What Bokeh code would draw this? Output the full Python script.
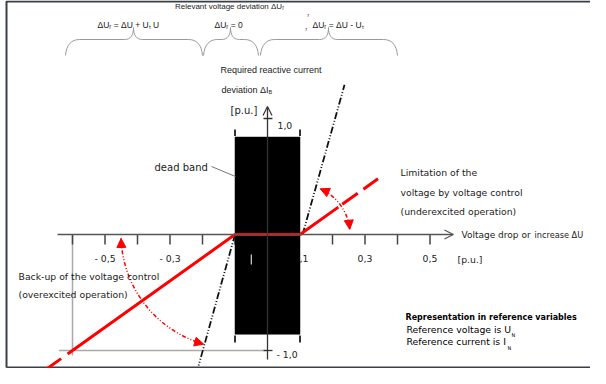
import math
from bokeh.plotting import figure
from bokeh.models import Range1d, Arrow, NormalHead, OpenHead
from bokeh.embed import file_html
from bokeh.resources import INLINE
from bokeh.core.properties import value

# ---------------- data (p.u.) ----------------
x_ticks_neg = [-0.6, -0.5, -0.4, -0.3, -0.2, -0.1]
x_ticks_pos = [0.2, 0.3, 0.4, 0.5]
x_label_vals = [-0.5, -0.3, 0.3, 0.5]
x_label_text = ["- 0,5", "- 0,3", "0,3", "0,5"]
x_hidden_label_val = 0.1
x_hidden_label_text = "0,1"
y_tick_vals = [1.0, -1.0]
y_tick_text = ["1,0", "- 1,0"]
dead_band_x = [-0.1, 0.1]
dead_band_y = [-0.86, 0.84]
# reactive current characteristic (slope 2 outside dead band)
char_solid_x = [-0.6, -0.1, 0.1, 0.218]
char_solid_y = [-1.0, 0.0, 0.0, 0.236]
char_dash_right_x = [0.23, 0.34]
char_dash_right_y = [0.26, 0.48]
char_dash_left_x = [-0.6, -0.70]
char_dash_left_y = [-1.0, -1.20]
# steep limitation lines (dash-dot)
limit_right_x = [0.108, 0.237]
limit_right_y = [0.0, 1.29]
limit_left_x = [-0.1, -0.212]
limit_left_y = [0.0, -1.13]
# reference marks
ref_current = -1.0
ref_voltage = -0.6
x_axis_span = [-0.646, 0.572]
y_axis_span = [-1.078, 1.103]

# ---------------- layout (reference pixels -> p.u.) ----------------
SX, SY = 325.0, 116.0          # pixels per p.u.
OX, OY = 275.0, 242.0          # origin in page pixels
W, H = 590, 368


def ux(px):
    return (px - OX) / SX


def uy(py):
    return (OY - py) / SY


p = figure(width=W, height=H, x_range=Range1d(ux(8), ux(8 + W)),
           y_range=Range1d(uy(8 + H), uy(8)), output_backend="svg",
           toolbar_location=None, x_axis_type=None, y_axis_type=None,
           min_border=0, outline_line_color=None,
           background_fill_color="white", border_fill_color="white")
p.grid.visible = False

AX = "#555555"
TXT = "#222222"
RED = "#ff0000"


def txt(s, x, y, size="9.3px", font="DejaVu Sans", align="left",
        style="normal", color=TXT, baseline="middle"):
    p.text(x=[x], y=[y], text=[s], text_font=value(font),
           text_font_size=value(size), text_align=align,
           text_baseline=baseline, text_color=color, text_font_style=style)


# frame
p.line(x=[ux(14), ux(14), ux(600)], y=[uy(375), uy(9), uy(9)],
       line_color="#3a3f44", line_width=2)
p.line(x=[ux(14), ux(600)], y=[uy(375), uy(375)], line_color="#3a3f44",
       line_width=2)

# braces
def brace(x0, xm, x1, ye=63, yh=47, yt=35):
    xs0, ys0, xs1, ys1, cx0, cy0, cx1, cy1 = [], [], [], [], [], [], [], []
    segs = [
        ((x0, ye), (x0 + 14, yh), (x0 + 1, yh + 5), (x0 + 6, yh)),
        ((xm - 9, yh), (xm, yt), (xm - 3, yh), (xm, yh - 4)),
        ((xm, yt), (xm + 9, yh), (xm, yh - 4), (xm + 3, yh)),
        ((x1 - 14, yh), (x1, ye), (x1 - 6, yh), (x1 - 1, yh + 5)),
    ]
    for a, b, c, d in segs:
        xs0.append(ux(a[0])); ys0.append(uy(a[1]))
        xs1.append(ux(b[0])); ys1.append(uy(b[1]))
        cx0.append(ux(c[0])); cy0.append(uy(c[1]))
        cx1.append(ux(d[0])); cy1.append(uy(d[1]))
    p.bezier(x0=xs0, y0=ys0, x1=xs1, y1=ys1, cx0=cx0, cy0=cy0, cx1=cx1,
             cy1=cy1, line_color="#9a9a9a", line_width=1)
    p.segment(x0=[ux(x0 + 14), ux(xm + 9)], y0=[uy(yh)] * 2,
              x1=[ux(xm - 9), ux(x1 - 14)], y1=[uy(yh)] * 2,
              line_color="#9a9a9a", line_width=1)


brace(73, 141, 210)
brace(211, 238, 266)
brace(268, 336, 405)

# top texts
txt("Relevant voltage deviation ΔUᵣ", ux(237), uy(14), size="8px",
    font="Liberation Sans", align="center")
txt("ΔUᵣ = ΔU + Uₜ U", ux(105), uy(32), size="8.5px", font="Liberation Sans")
txt("ΔUᵣ = 0", ux(222), uy(32), size="8.5px", font="Liberation Sans")
txt("ΔUᵣ = ΔU - Uₜ", ux(320), uy(32), size="8.5px", font="Liberation Sans")
txt("r", ux(315), uy(22), size="5px", font="Liberation Sans")
txt("r", ux(313), uy(36), size="5px", font="Liberation Sans")

txt("Required reactive current", ux(228), uy(77), size="9px",
    font="Liberation Sans")
txt("deviation ΔI", ux(229), uy(97), size="9px", font="Liberation Sans")
txt("B", ux(276), uy(99), size="5.5px", font="Liberation Sans")
txt("[p.u.]", ux(238), uy(118), size="10px")

# dotted reference lines
p.line(x=[x_axis_span[0] + 0.006, 0.0], y=[ref_current, ref_current],
       line_color=AX, line_width=1.5, line_dash="1 1")
p.line(x=[ref_voltage, ref_voltage], y=[0.0, -1.04], line_color=AX,
       line_width=1.5, line_dash="1 1")

# axes
p.add_layout(Arrow(end=OpenHead(size=9, line_color=AX, line_width=1.2),
                   x_start=x_axis_span[0], y_start=0.0,
                   x_end=x_axis_span[1], y_end=0.0,
                   line_color=AX, line_width=1.5))
p.add_layout(Arrow(end=OpenHead(size=9, line_color="#333333", line_width=1.2),
                   x_start=0.0, y_start=y_axis_span[0],
                   x_end=0.0, y_end=y_axis_span[1],
                   line_color="#333333", line_width=1.3))
all_x_ticks = x_ticks_neg + x_ticks_pos
p.segment(x0=all_x_ticks, y0=[0.0] * len(all_x_ticks), x1=all_x_ticks,
          y1=[-10 / SY] * len(all_x_ticks), line_color="#444444",
          line_width=1.5)
p.segment(x0=[-4 / SX] * 2, y0=y_tick_vals, x1=[5 / SX] * 2, y1=y_tick_vals,
          line_color="#333333", line_width=1.3)

for v, t in zip(x_label_vals, x_label_text):
    txt(t, v, uy(266), size="9.3px", align="center")
txt(x_hidden_label_text, x_hidden_label_val + 1 / SX, uy(266), size="9.3px",
    align="center")
txt("[p.u.]", ux(465), uy(267), size="9.3px")
txt(y_tick_text[0], ux(285), uy(133), size="9.3px")
txt(y_tick_text[1], ux(284), uy(362), size="9.3px")

# dead band box
p.quad(left=[dead_band_x[0]], right=[dead_band_x[1]], bottom=[dead_band_y[0]],
       top=[dead_band_y[1]], fill_color="black", line_color="black",
       line_width=0.5)
p.segment(x0=dead_band_x, y0=[0.85, 0.85], x1=dead_band_x, y1=[0.905, 0.905],
          line_color="black", line_width=1.6)
p.segment(x0=dead_band_x, y0=[-0.87, -0.87], x1=dead_band_x,
          y1=[-0.93, -0.93], line_color="black", line_width=1.6)
p.segment(x0=[-0.05], y0=[-20 / SY], x1=[-0.05], y1=[-30 / SY],
          line_color="white", line_width=1)

txt("dead band", ux(162), uy(175), size="10px")
p.line(x=[ux(219), ux(243)], y=[uy(174), uy(184)], line_color="#777777",
       line_width=1)

# limitation lines
p.line(x=limit_right_x, y=limit_right_y, line_color="#111111", line_width=1.8,
       line_dash="7 2 1 2 1 2")
p.line(x=limit_left_x, y=limit_left_y, line_color="#111111", line_width=1.8,
       line_dash="7 2 1 2 1 2")

# characteristic
p.line(x=char_solid_x, y=char_solid_y, line_color=RED, line_width=3)
p.line(x=char_dash_right_x, y=char_dash_right_y, line_color=RED,
       line_width=3, line_dash="19 7")
p.line(x=char_dash_left_x, y=char_dash_left_y, line_color=RED, line_width=3,
       line_dash="6 8 30")


# dotted rotation arcs with arrow heads
def arc_arrows(cx, cy, r, a0, a1):
    p.arc(x=[cx], y=[cy], radius=r, radius_units="screen", start_angle=a0,
          end_angle=a1, start_angle_units="deg", end_angle_units="deg",
          direction="anticlock",
          line_color=RED, line_width=1.5, line_dash="4 2 1 2 1 2")
    for ang, sgn in ((a0, -1), (a1, 1)):
        t = math.radians(ang)
        tipx, tipy = cx + r * math.cos(t) / SX, cy + r * math.sin(t) / SY
        dx, dy = -math.sin(t) * sgn, math.cos(t) * sgn
        p.add_layout(Arrow(end=NormalHead(size=9, fill_color=RED,
                                          line_color=RED, line_width=1),
                           x_start=tipx - 8 * dx / SX,
                           y_start=tipy - 8 * dy / SY,
                           x_end=tipx, y_end=tipy, line_color=RED,
                           line_alpha=0.0, line_width=1))


arc_arrows(dead_band_x[0], 0.0, 114, 182, 254)
arc_arrows(dead_band_x[1], 0.0, 50, 6, 66)

# side texts
txt("Limitation of the", ux(408), uy(180))
txt("voltage by voltage control", ux(408), uy(200))
txt("(underexcited operation)", ux(408), uy(219))
txt("Voltage drop or", ux(469), uy(242), size="9px")
txt("increase ΔU", ux(542), uy(242), size="8.2px")
txt("Back-up of the voltage control", ux(26), uy(284))
txt("(overexcited operation)", ux(26), uy(302))
txt("Representation in reference variables", ux(413), uy(325), size="8px",
    style="bold", color="#000000")
txt("Reference voltage is U", ux(414), uy(337), color="#000000")
txt("N", ux(519), uy(342), size="5px", color="#000000")
txt("Reference current is I", ux(414), uy(349), color="#000000")
txt("N", ux(515), uy(355), size="5px", color="#000000")

open("out.html", "w").write(file_html(p, INLINE))
